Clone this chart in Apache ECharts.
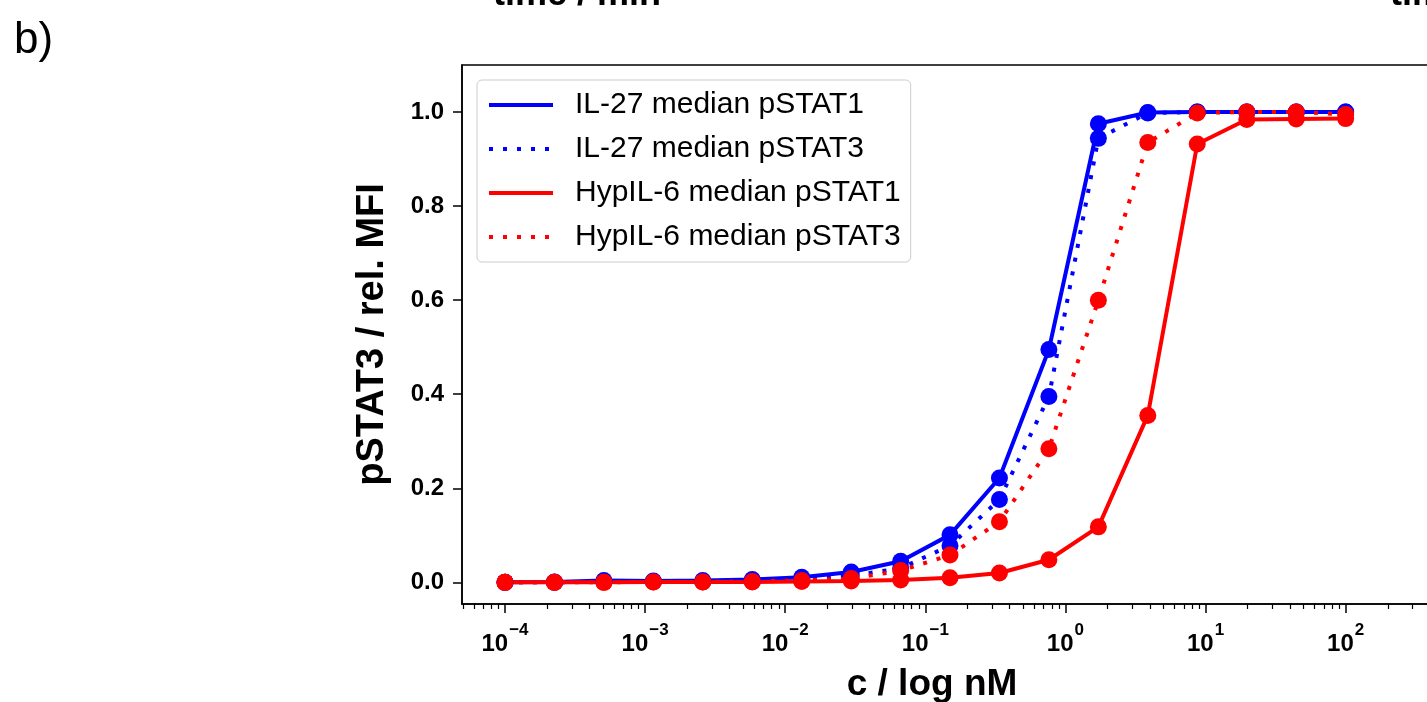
<!DOCTYPE html>
<html>
<head>
<meta charset="utf-8">
<script src="https://cdn.jsdelivr.net/npm/echarts@6/dist/echarts.min.js"></script>
<style>
html,body{margin:0;padding:0;background:#fff;}
#chart{width:1427px;height:702px;}
</style>
</head>
<body>
<div id="chart"></div>
<script>
// concentrations (nM)
const concentration = [1e-4, 2.254e-4, 5.08e-4, 1.145e-3, 2.58e-3, 5.82e-3, 1.312e-2, 2.96e-2, 6.67e-2, 0.150, 0.338, 0.762, 1.718, 3.87, 8.73, 19.7, 44.4, 100];
const il27_pSTAT1 = [0.000, 0.001, 0.004, 0.003, 0.004, 0.006, 0.011, 0.022, 0.045, 0.101, 0.222, 0.495, 0.975, 0.999, 1.000, 1.000, 1.000, 1.000];
const il27_pSTAT3 = [0.000, 0.000, 0.002, 0.002, 0.002, 0.004, 0.007, 0.014, 0.030, 0.078, 0.176, 0.395, 0.944, 0.998, 1.000, 1.000, 1.000, 1.000];
const hyp_pSTAT1  = [0.000, 0.000, 0.000, 0.001, 0.001, 0.001, 0.002, 0.003, 0.005, 0.010, 0.020, 0.048, 0.118, 0.355, 0.932, 0.984, 0.985, 0.986];
const hyp_pSTAT3  = [0.000, 0.000, 0.000, 0.001, 0.001, 0.002, 0.004, 0.008, 0.025, 0.058, 0.129, 0.284, 0.600, 0.935, 0.998, 1.000, 1.000, 0.995];
const seriesNames = ['IL-27 median pSTAT1', 'IL-27 median pSTAT3', 'HypIL-6 median pSTAT1', 'HypIL-6 median pSTAT3'];
const xMajorTicks = [1e-4, 1e-3, 1e-2, 1e-1, 1e0, 1e1, 1e2];
const xMinorMultipliers = [2, 3, 4, 5, 6, 7, 8, 9];
const yTicks = [0.0, 0.2, 0.4, 0.6, 0.8, 1.0];

const X_MIN = 4.933e-5, X_MAX = 400;
const xMinorTicks = [];
[1e-5].concat(xMajorTicks).forEach(function (d) {
  xMinorMultipliers.forEach(function (m) {
    const v = d * m;
    if (v >= X_MIN && v <= X_MAX) xMinorTicks.push(v);
  });
});

function pairs(ys) { return concentration.map(function (c, i) { return [c, ys[i]]; }); }

const BLUE = '#0000ff', RED = '#ff0000';
const FONT = '"Liberation Sans", Arial, sans-serif';
const DOT = [4, 10];

function lineSeries(name, ys, color, dotted) {
  return {
    name: name, type: 'line', data: pairs(ys), symbol: 'none',
    xAxisIndex: 0, yAxisIndex: 0, clip: false,
    lineStyle: { color: color, width: 4, type: dotted ? DOT : 'solid', cap: 'butt' },
    itemStyle: { color: color }, z: 3
  };
}
function dotSeries(ys, color) {
  return {
    type: 'scatter', data: pairs(ys), symbol: 'circle', symbolSize: 17,
    xAxisIndex: 0, yAxisIndex: 0, clip: false,
    itemStyle: { color: color, opacity: 1 }, z: 4, silent: true
  };
}

const chart = echarts.init(document.getElementById('chart'), null, { renderer: 'canvas' });
chart.setOption({
  animation: false,
  backgroundColor: '#ffffff',
  textStyle: { fontFamily: FONT },
  grid: { left: 462, top: 65, right: -3, bottom: 98, outerBoundsMode: 'none', containLabel: false, show: true, borderColor: '#000', borderWidth: 1.5, backgroundColor: 'transparent' },
  legend: {
    data: seriesNames,
    orient: 'vertical', left: 477, top: 80,
    itemWidth: 64, itemHeight: 14, itemGap: 14,
    padding: [10, 10, 10, 10],
    backgroundColor: 'rgba(255,255,255,0.8)', borderColor: '#cccccc', borderWidth: 1, borderRadius: 5,
    itemStyle: { opacity: 0 },
    lineStyle: { width: 4 },
    textStyle: { fontFamily: FONT, fontSize: 30, color: '#000', lineHeight: 30, padding: [0, 0, 0, 17] },
    selectedMode: false
  },
  xAxis: [{
    type: 'log', logBase: 10, min: X_MIN, max: X_MAX, position: 'bottom',
    name: 'c / log nM', nameLocation: 'middle', nameGap: 62,
    nameTextStyle: { fontFamily: FONT, fontSize: 37, fontWeight: 'bold', color: '#000', padding: [0, 28, 0, 0] },
    axisLine: { show: true, onZero: false, lineStyle: { color: '#000', width: 1.5 } },
    axisTick: { show: true, inside: false, length: 9, lineStyle: { color: '#000', width: 1.5 }, customValues: xMajorTicks },
    axisLabel: {
      show: true, margin: 18, customValues: xMajorTicks,
      formatter: function (v) {
        const e = Math.round(Math.log10(v));
        return '{b|10}{s|' + (e < 0 ? '\u2212' : '') + Math.abs(e) + '}';
      },
      rich: {
        b: { fontFamily: FONT, fontSize: 24, fontWeight: 'bold', color: '#000' },
        s: { fontFamily: FONT, fontSize: 17, fontWeight: 'bold', color: '#000', padding: [0, 0, 28, 1] }
      }
    },
    splitLine: { show: false }, minorTick: { show: false }
  }, {
    type: 'log', logBase: 10, min: X_MIN, max: X_MAX, position: 'bottom', gridIndex: 0,
    axisLine: { show: false, onZero: false },
    axisTick: { show: true, inside: false, length: 5, lineStyle: { color: '#000', width: 1.2 }, customValues: xMinorTicks },
    axisLabel: { show: false },
    splitLine: { show: false }
  }],
  yAxis: [{
    type: 'value', min: -0.046, max: 1.1,
    name: 'pSTAT3 / rel. MFI', nameLocation: 'middle', nameGap: 70, nameRotate: 90,
    nameTextStyle: { fontFamily: FONT, fontSize: 38, fontWeight: 'bold', color: '#000' },
    axisLine: { show: true, onZero: false, lineStyle: { color: '#000', width: 1.5 } },
    axisTick: { show: true, inside: false, length: 9, lineStyle: { color: '#000', width: 1.5 }, customValues: yTicks },
    axisLabel: {
      show: true, margin: 18, customValues: yTicks, fontFamily: FONT, fontSize: 24, fontWeight: 'bold', color: '#000',
      formatter: function (v) { return v.toFixed(1); }
    },
    splitLine: { show: false }
  }],
  series: [
    lineSeries(seriesNames[0], il27_pSTAT1, BLUE, false),
    dotSeries(il27_pSTAT1, BLUE),
    lineSeries(seriesNames[1], il27_pSTAT3, BLUE, true),
    dotSeries(il27_pSTAT3, BLUE),
    lineSeries(seriesNames[2], hyp_pSTAT1, RED, false),
    dotSeries(hyp_pSTAT1, RED),
    lineSeries(seriesNames[3], hyp_pSTAT3, RED, true),
    dotSeries(hyp_pSTAT3, RED)
  ],
  graphic: [
    { type: 'text', left: 14, top: 19, style: { text: 'b)', fontFamily: FONT, fontSize: 44, fill: '#000' } },
    { type: 'text', x: 493, y: 13, style: { text: 'time / min', fontFamily: FONT, fontSize: 36, fontWeight: 'bold', fill: '#000', verticalAlign: 'bottom' } },
    { type: 'text', x: 1390, y: 13, style: { text: 'time / min', fontFamily: FONT, fontSize: 36, fontWeight: 'bold', fill: '#000', verticalAlign: 'bottom' } }
  ]
});
</script>
</body>
</html>
